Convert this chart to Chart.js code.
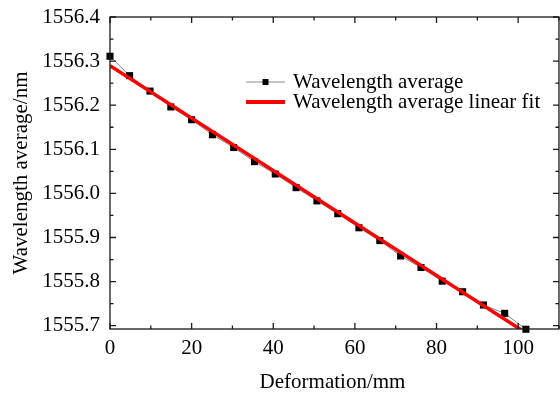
<!DOCTYPE html>
<html><head><meta charset="utf-8">
<script src="https://cdn.jsdelivr.net/npm/chart.js@4/dist/chart.umd.min.js"></script>
<style>
html,body{margin:0;padding:0;overflow:hidden;background:#fff}
#c{display:block}
</style>
</head><body><canvas id="c" width="560" height="393" style="width:560px;height:393px"></canvas>
<script>
// ---- data ----
const deformation = [0, 4.8, 9.8, 14.9, 20.0, 25.1, 30.3, 35.4, 40.5, 45.6, 50.7, 55.8, 61.0, 66.1, 71.2, 76.2, 81.4, 86.4, 91.5, 96.7, 101.9];
const wavelengthAvg = [1556.311, 1556.267, 1556.232, 1556.196, 1556.167, 1556.133, 1556.104, 1556.072, 1556.044, 1556.013, 1555.983, 1555.954, 1555.922, 1555.893, 1555.858, 1555.832, 1555.801, 1555.777, 1555.747, 1555.728, 1555.692];
const fitX = [0, 101.9];
const fitY = [1556.2895, 1555.6837];
const xTickValues = [0, 20, 40, 60, 80, 100];
const xTickLabels = ['0', '20', '40', '60', '80', '100'];
const xAxisEnd = 110;
const yTickValues = [1555.7, 1555.8, 1555.9, 1556.0, 1556.1, 1556.2, 1556.3, 1556.4];
const yTickLabels = ['1555.7', '1555.8', '1555.9', '1556.0', '1556.1', '1556.2', '1556.3', '1556.4'];
const seriesNames = ['Wavelength average', 'Wavelength average linear fit'];
const xTitle = 'Deformation/mm';
const yTitle = 'Wavelength average/nm';

const FONT = "'Liberation Serif', 'Times New Roman', serif";

const framePlugin = {
  id: 'frame',
  afterDatasetsDraw(chart) {
    const ctx = chart.ctx, a = chart.chartArea;
    const xs = chart.scales.x, ys = chart.scales.y;
    const right = xs.getPixelForValue(xAxisEnd);
    ctx.save();
    ctx.strokeStyle = '#1a1a1a';
    ctx.lineWidth = 1.3;
    ctx.strokeRect(a.left, a.top, right - a.left, a.bottom - a.top);
    const major = 6, minor = 3.5;
    ctx.beginPath();
    const xMinor = xTickValues.map(v => v + 10);
    xTickValues.forEach(v => {
      const p = xs.getPixelForValue(v);
      ctx.moveTo(p, a.bottom); ctx.lineTo(p, a.bottom - major);
      ctx.moveTo(p, a.top); ctx.lineTo(p, a.top + major);
    });
    xMinor.forEach(v => {
      const p = xs.getPixelForValue(v);
      ctx.moveTo(p, a.bottom); ctx.lineTo(p, a.bottom - minor);
      ctx.moveTo(p, a.top); ctx.lineTo(p, a.top + minor);
    });
    yTickValues.forEach((v, i) => {
      const p = ys.getPixelForValue(v);
      ctx.moveTo(a.left, p); ctx.lineTo(a.left + major, p);
      ctx.moveTo(right, p); ctx.lineTo(right - major, p);
      if (i < yTickValues.length - 1) {
        const q = ys.getPixelForValue((v + yTickValues[i + 1]) / 2);
        ctx.moveTo(a.left, q); ctx.lineTo(a.left + minor, q);
        ctx.moveTo(right, q); ctx.lineTo(right - minor, q);
      }
    });
    ctx.stroke();

    // legend
    const d0 = chart.data.datasets[1], d1 = chart.data.datasets[0];
    const lx0 = 246, lx1 = 285, tx = 293;
    const r1 = 82, r2 = 102;
    ctx.strokeStyle = '#888';
    ctx.lineWidth = 1;
    ctx.beginPath(); ctx.moveTo(lx0, r1); ctx.lineTo(lx1, r1); ctx.stroke();
    ctx.fillStyle = '#000';
    ctx.fillRect((lx0 + lx1) / 2 - 3, r1 - 3, 6, 6);
    ctx.strokeStyle = d1.borderColor;
    ctx.lineWidth = 4;
    ctx.beginPath(); ctx.moveTo(lx0, r2); ctx.lineTo(lx1, r2); ctx.stroke();
    ctx.fillStyle = '#000';
    ctx.font = "21px " + FONT;
    ctx.textBaseline = 'middle';
    ctx.textAlign = 'left';
    ctx.fillText(d0.label, tx, r1);
    ctx.fillText(d1.label, tx, r2);
    ctx.restore();
  }
};

new Chart(document.getElementById('c'), {
  type: 'scatter',
  data: {
    datasets: [
      {
        label: seriesNames[1],
        data: fitX.map((x, i) => ({ x, y: fitY[i] })),
        showLine: true,
        borderColor: '#ff0000',
        borderWidth: 3.5,
        pointRadius: 0,
        clip: 0
      },
      {
        label: seriesNames[0],
        data: deformation.map((x, i) => ({ x, y: wavelengthAvg[i] })),
        showLine: true,
        borderColor: '#666',
        borderWidth: 0.8,
        pointStyle: 'rect',
        pointRadius: 5,
        pointBackgroundColor: '#000',
        pointBorderColor: '#000',
        pointBorderWidth: 0,
        clip: false
      }
    ]
  },
  options: {
    responsive: false,
    maintainAspectRatio: false,
    animation: false,
    devicePixelRatio: 1,
    events: [],
    layout: { padding: { top: 17, right: 0, left: 0, bottom: 0 } },
    plugins: { legend: { display: false }, tooltip: { enabled: false } },
    scales: {
      x: {
        type: 'linear',
        min: 0, max: 109.03,
        grid: { display: false, drawTicks: false },
        border: { display: false },
        afterBuildTicks: s => { s.ticks = xTickValues.map(v => ({ value: v })); },
        afterFit: s => { s.height = 64; s.paddingLeft = 0; s.paddingRight = 0; s.paddingTop = 0; s.paddingBottom = 0; },
        ticks: {
          color: '#000',
          font: { family: FONT, size: 21 },
          padding: 7,
          maxRotation: 0,
          callback: (v) => xTickLabels[xTickValues.indexOf(v)]
        },
        title: {
          display: true, text: xTitle, color: '#000',
          font: { family: FONT, size: 21, lineHeight: 1 },
          padding: { top: 0, bottom: 0 }
        }
      },
      y: {
        type: 'linear',
        min: 1555.6925, max: 1556.4,
        grid: { display: false, drawTicks: false },
        border: { display: false },
        afterBuildTicks: s => { s.ticks = yTickValues.map(v => ({ value: v })); },
        afterFit: s => { s.width = 110; s.paddingTop = 0; s.paddingBottom = 0; s.paddingLeft = 0; s.paddingRight = 0; },
        ticks: {
          color: '#000',
          font: { family: FONT, size: 21 },
          padding: 10,
          callback: (v) => yTickLabels[yTickValues.indexOf(v)]
        },
        title: {
          display: true, text: yTitle, color: '#000',
          font: { family: FONT, size: 21, lineHeight: 1 },
          padding: { top: 10.5, bottom: 0 }
        }
      }
    }
  },
  plugins: [framePlugin]
});
</script>
</body></html>
